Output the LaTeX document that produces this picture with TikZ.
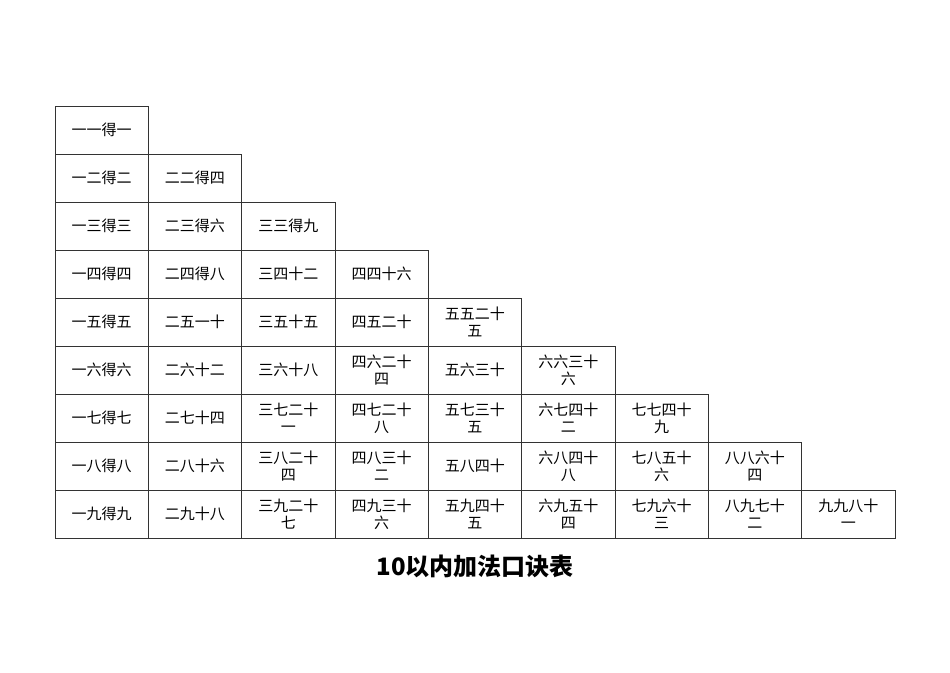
\documentclass[tikz,border=0pt]{standalone}
\usepackage{fontspec}
\newfontfamily\cjk{Noto Sans CJK SC}
\begin{document}
\begin{tikzpicture}[x=1pt,y=-1pt,
  cellbox/.style={draw=black!80,line width=0.6pt,minimum width=93.3pt,minimum height=48pt,inner sep=0pt,align=center,font=\cjk\fontsize{15}{17}\selectfont},
  titlebox/.style={font=\cjk\bfseries\fontsize{24}{28}\selectfont}]
\useasboundingbox (0,0) rectangle (950,672);
\def\W{93.33}\def\H{48}
\foreach \t [count=\i] in {
 {1/1/一一得一},
 {2/1/一二得二},{2/2/二二得四},
 {3/1/一三得三},{3/2/二三得六},{3/3/三三得九},
 {4/1/一四得四},{4/2/二四得八},{4/3/三四十二},{4/4/四四十六},
 {5/1/一五得五},{5/2/二五一十},{5/3/三五十五},{5/4/四五二十},{5/5/五五二十\\五},
 {6/1/一六得六},{6/2/二六十二},{6/3/三六十八},{6/4/四六二十\\四},{6/5/五六三十},{6/6/六六三十\\六},
 {7/1/一七得七},{7/2/二七十四},{7/3/三七二十\\一},{7/4/四七二十\\八},{7/5/五七三十\\五},{7/6/六七四十\\二},{7/7/七七四十\\九},
 {8/1/一八得八},{8/2/二八十六},{8/3/三八二十\\四},{8/4/四八三十\\二},{8/5/五八四十},{8/6/六八四十\\八},{8/7/七八五十\\六},{8/8/八八六十\\四},
 {9/1/一九得九},{9/2/二九十八},{9/3/三九二十\\七},{9/4/四九三十\\六},{9/5/五九四十\\五},{9/6/六九五十\\四},{9/7/七九六十\\三},{9/8/八九七十\\二},{9/9/九九八十\\一}}
{
  \foreach \r/\c/\s in \t {
    \node[cellbox] (n\r\c) at ({55+(\c-0.5)*\W},{106+(\r-0.5)*\H}) {\s};
  }
}
\node[titlebox] (title) at (475,566) {10以内加法口诀表};
\end{tikzpicture}
\end{document}
